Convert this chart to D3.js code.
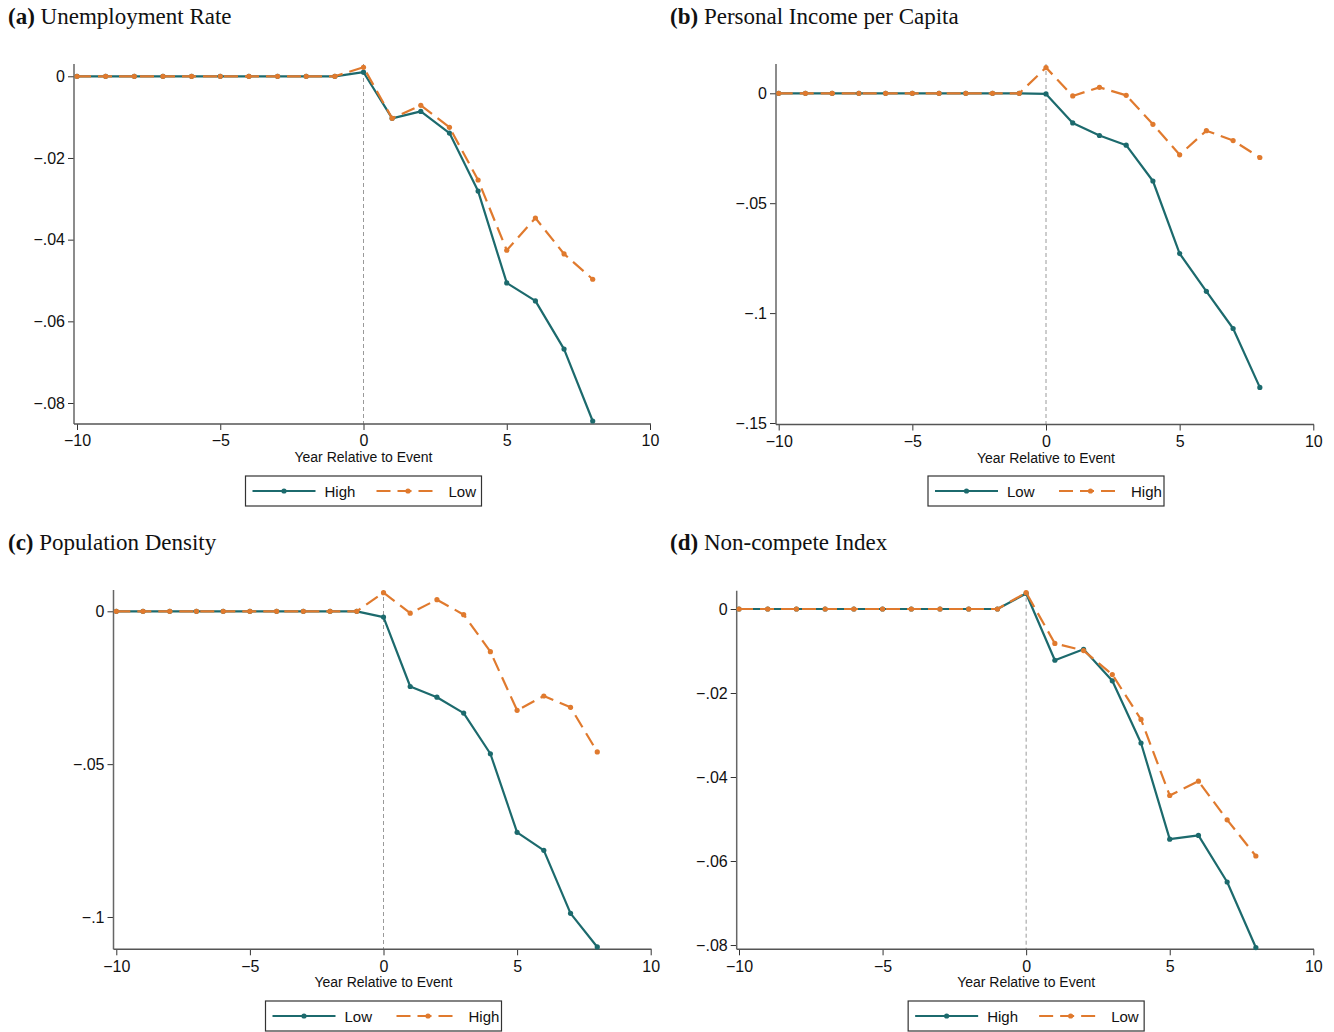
<!DOCTYPE html>
<html><head><meta charset="utf-8">
<script src="https://cdn.jsdelivr.net/npm/d3@7"></script>
<style>
html,body{margin:0;padding:0;background:#fff;}
svg{display:block;}
</style></head>
<body>
<script>
// ---------- DATA ----------
const years = [-10,-9,-8,-7,-6,-5,-4,-3,-2,-1,0,1,2,3,4,5,6,7,8];
const xTicks = [-10,-5,0,5,10];

const unempHigh = [0,0,0,0,0,0,0,0,0,0, 0.0010,-0.0103,-0.0086,-0.0139,-0.0281,-0.0506,-0.0550,-0.0668,-0.0844];
const unempLow  = [0,0,0,0,0,0,0,0,0,0, 0.0022,-0.0103,-0.0071,-0.0125,-0.0254,-0.0426,-0.0347,-0.0435,-0.0497];
const unempTicks = [0,-0.02,-0.04,-0.06,-0.08];

const incomeLow  = [0,0,0,0,0,0,0,0,0,0,-0.0003,-0.0135,-0.0192,-0.0236,-0.0399,-0.0729,-0.0901,-0.1070,-0.1338];
const incomeHigh = [0,0,0,0,0,0,0,0,0,0, 0.0117,-0.0012, 0.0027,-0.0009,-0.0141,-0.0280,-0.0170,-0.0215,-0.0292];
const incomeTicks = [0,-0.05,-0.1,-0.15];

const popLow  = [0,0,0,0,0,0,0,0,0,0,-0.0019,-0.0246,-0.0281,-0.0333,-0.0466,-0.0723,-0.0782,-0.0988,-0.1098];
const popHigh = [0,0,0,0,0,0,0,0,0,0, 0.0061,-0.0006, 0.0038,-0.0011,-0.0132,-0.0324,-0.0277,-0.0314,-0.0460];
const popTicks = [0,-0.05,-0.1];

const ncHigh = [0,0,0,0,0,0,0,0,0,0, 0.0037,-0.0122,-0.0096,-0.0171,-0.0319,-0.0548,-0.0539,-0.0650,-0.0806];
const ncLow  = [0,0,0,0,0,0,0,0,0,0, 0.0039,-0.0082,-0.0099,-0.0156,-0.0263,-0.0444,-0.0410,-0.0502,-0.0588];
const ncTicks = [0,-0.02,-0.04,-0.06,-0.08];

const xTitle = "Year Relative to Event";

// ---------- STYLE / LAYOUT ----------
const TEAL = "#1c6a6d", ORANGE = "#e07a2e";
const DASH = "14,7";
const W = 1334, H = 1032;

const panels = [
  {letter:"(a)", title:"Unemployment Rate", ticks:unempTicks, yDomain:[-0.08514,0.00301],
   series:[{name:"High",values:unempHigh,color:TEAL,dash:null},{name:"Low",values:unempLow,color:ORANGE,dash:DASH}],
   frame:{left:74,right:651,top:64,bottom:424}, xRange:[77,650], titleY:24, legendY:476},
  {letter:"(b)", title:"Personal Income per Capita", ticks:incomeTicks, yDomain:[-0.15068,0.01333],
   series:[{name:"Low",values:incomeLow,color:TEAL,dash:null},{name:"High",values:incomeHigh,color:ORANGE,dash:DASH}],
   frame:{left:776,right:1314,top:64,bottom:424.5}, xRange:[778.7,1313.3], titleX:670, titleY:24, legendY:476},
  {letter:"(c)", title:"Population Density", ticks:popTicks, yDomain:[-0.11057,0.00697],
   series:[{name:"Low",values:popLow,color:TEAL,dash:null},{name:"High",values:popHigh,color:ORANGE,dash:DASH}],
   frame:{left:113.5,right:651.5,top:590,bottom:949.3}, xRange:[116.3,650.7], titleY:550, legendY:1001},
  {letter:"(d)", title:"Non-compete Index", ticks:ncTicks, yDomain:[-0.08102,0.00436],
   series:[{name:"High",values:ncHigh,color:TEAL,dash:null},{name:"Low",values:ncLow,color:ORANGE,dash:DASH}],
   frame:{left:736.7,right:1314,top:590.7,bottom:949.3}, xRange:[739,1313.3], titleX:670, titleY:550, legendY:1001}
];

const fmt = d => d === 0 ? "0" : (d < 0 ? "\u2212" : "") + String(+Math.abs(d).toFixed(4)).replace(/^0\./, ".");

const svg = d3.select("body").append("svg").attr("width", W).attr("height", H);

const SANS = "'Liberation Sans Narrow','Liberation Sans',Arial,sans-serif";
const SERIF = "'Liberation Serif','Times New Roman',serif";

panels.forEach(p => {
  const f = p.frame;
  const x = d3.scaleLinear().domain([-10,10]).range(p.xRange);
  const y = d3.scaleLinear().domain(p.yDomain).range([f.bottom, f.top]);
  const g = svg.append("g");

  // title
  const t = g.append("text").attr("x", p.titleX || 8).attr("y", p.titleY)
    .attr("font-family", SERIF).attr("font-size", 23).attr("fill", "#111");
  t.append("tspan").attr("font-weight", "bold").text(p.letter);
  t.append("tspan").text(" " + p.title);

  // reference line at 0
  g.append("line").attr("x1", x(0)).attr("x2", x(0)).attr("y1", f.top).attr("y2", f.bottom)
    .attr("stroke", "#9a9a9a").attr("stroke-width", 1).attr("stroke-dasharray", "4,3");

  // axes
  const xa = g.append("g").attr("transform", `translate(0,${f.bottom})`)
    .call(d3.axisBottom(x).tickValues(xTicks).tickFormat(fmt).tickSize(6).tickPadding(5));
  xa.select(".domain").remove();
  xa.selectAll(".tick line").attr("stroke", "#333");
  xa.selectAll(".tick text").attr("font-family", SANS).attr("font-size", 16).attr("fill", "#111");

  const ya = g.append("g").attr("transform", `translate(${f.left},0)`)
    .call(d3.axisLeft(y).tickValues(p.ticks).tickFormat(fmt).tickSize(6).tickPadding(3));
  ya.select(".domain").remove();
  ya.selectAll(".tick line").attr("stroke", "#333");
  ya.selectAll(".tick text").attr("font-family", SANS).attr("font-size", 16).attr("fill", "#111");

  g.append("line").attr("x1", f.left).attr("x2", f.left).attr("y1", f.top).attr("y2", f.bottom)
    .attr("stroke", "#666").attr("stroke-width", 1.5);
  g.append("line").attr("x1", f.left).attr("x2", f.right).attr("y1", f.bottom).attr("y2", f.bottom)
    .attr("stroke", "#555").attr("stroke-width", 1.5);

  // x title
  g.append("text").attr("x", x(0)).attr("y", f.bottom + 38).attr("text-anchor", "middle")
    .attr("font-family", SANS).attr("font-size", 14).attr("fill", "#111").text(xTitle);

  // series
  const line = d3.line().x((d,i) => x(years[i])).y(d => y(d));
  p.series.forEach(s => {
    g.append("path").datum(s.values).attr("d", line).attr("fill", "none")
      .attr("stroke", s.color).attr("stroke-width", 2.2).attr("stroke-linejoin", "round")
      .attr("stroke-dasharray", s.dash);
    g.selectAll(null).data(s.values).enter().append("circle")
      .attr("cx", (d,i) => x(years[i])).attr("cy", d => y(d)).attr("r", 2.6).attr("fill", s.color);
  });

  // legend
  const cx = (p.xRange[0] + p.xRange[1]) / 2;
  const bw = 236, bh = 30;
  const lg = g.append("g").attr("transform", `translate(${cx - bw/2},${p.legendY})`);
  lg.append("rect").attr("width", bw).attr("height", bh).attr("fill", "#fff")
    .attr("stroke", "#333").attr("stroke-width", 1.2);
  const slots = [{x0:7, tx:79}, {x0:131, tx:203}];
  p.series.forEach((s, i) => {
    const sl = slots[i];
    lg.append("line").attr("x1", sl.x0).attr("x2", sl.x0 + 63).attr("y1", bh/2).attr("y2", bh/2)
      .attr("stroke", s.color).attr("stroke-width", 2.2).attr("stroke-dasharray", s.dash);
    lg.append("circle").attr("cx", sl.x0 + 31.5).attr("cy", bh/2).attr("r", 2.6).attr("fill", s.color);
    lg.append("text").attr("x", sl.tx).attr("y", bh/2 + 5.5).attr("font-family", SANS)
      .attr("font-size", 15).attr("fill", "#111").text(s.name);
  });
});
</script>
</body></html>
